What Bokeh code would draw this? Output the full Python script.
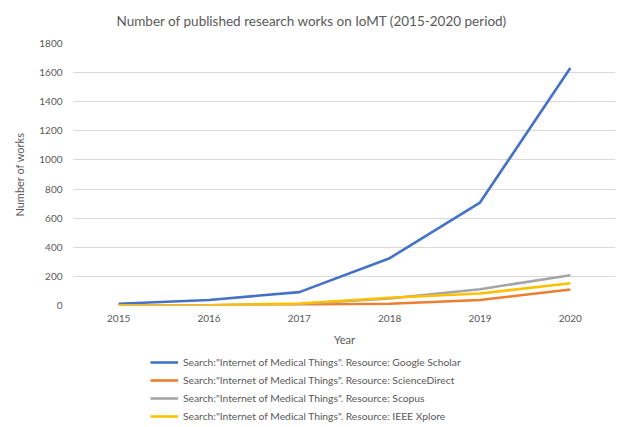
from bokeh.plotting import figure
from bokeh.models import Range1d, FixedTicker, Legend, LegendItem
from bokeh.layouts import column
from bokeh.embed import file_html
from bokeh.resources import INLINE

years = [2015, 2016, 2017, 2018, 2019, 2020]
google_scholar = [12, 38, 92, 325, 707, 1632]
science_direct = [0, 1, 4, 12, 38, 110]
scopus = [0, 2, 10, 48, 112, 208]
ieee_xplore = [0, 2, 14, 53, 82, 153]

series_names = [
    'Search:"Internet of Medical Things". Resource: Google Scholar',
    'Search:"Internet of Medical Things". Resource: ScienceDirect',
    'Search:"Internet of Medical Things". Resource: Scopus',
    'Search:"Internet of Medical Things". Resource: IEEE Xplore',
]
colors = ["#4472C4", "#ED7D31", "#A5A5A5", "#FFC000"]
y_ticks = [0, 200, 400, 600, 800, 1000, 1200, 1400, 1600, 1800]
all_series = [google_scholar, science_direct, scopus, ieee_xplore]

FONT = "Lato"
TXT = "#595959"
LW = 2.6

p = figure(width=620, height=350, output_backend="svg", toolbar_location=None,
           x_range=Range1d(2014.5, 2020.5), y_range=Range1d(0, 1800),
           min_border_left=73, min_border_right=5, min_border_top=43, min_border_bottom=45)
p.outline_line_color = None
p.background_fill_color = "white"

p.title.text = "Number of published research works on IoMT (2015-2020 period)"
p.title.text_font = FONT
p.title.text_font_size = "13.5px"
p.title.text_font_style = "normal"
p.title.text_color = TXT
p.title.align = "left"
p.title.vertical_align = "top"
p.title.offset = 43
p.title.standoff = 25

for vals, c in zip(all_series, colors):
    p.line(years, vals, line_color=c, line_width=LW)

p.xaxis.ticker = FixedTicker(ticks=years)
p.yaxis.ticker = FixedTicker(ticks=y_ticks)
for ax in (p.xaxis, p.yaxis):
    ax.axis_line_color = None
    ax.major_tick_line_color = None
    ax.minor_tick_line_color = None
    ax.major_label_text_font = FONT
    ax.major_label_text_font_size = "10px"
    ax.major_label_text_color = TXT
    ax.axis_label_text_font = FONT
    ax.axis_label_text_font_size = "11px"
    ax.axis_label_text_font_style = "normal"
    ax.axis_label_text_color = TXT
p.xaxis.axis_label = "Year"
p.yaxis.axis_label = "Number of works"
p.xaxis.major_label_standoff = 3
p.yaxis.major_label_standoff = 5
p.xaxis.axis_label_standoff = 8
p.yaxis.axis_label_standoff = 10

p.xgrid.grid_line_color = None
p.ygrid.grid_line_color = "#D9D9D9"
p.ygrid.grid_line_width = 1

# legend figure (series drawn out of its visible range, used only for legend glyphs)
q = figure(width=620, height=75, output_backend="svg", toolbar_location=None,
           x_range=Range1d(0, 1), y_range=Range1d(0, 1),
           x_axis_location=None, y_axis_location=None,
           min_border_left=73, min_border_right=5, min_border_top=0, min_border_bottom=0)
q.outline_line_color = None
q.xgrid.grid_line_color = None
q.ygrid.grid_line_color = None
dummies = [q.line(years, vals, line_color=c, line_width=LW) for vals, c in zip(all_series, colors)]

legend = Legend(items=[LegendItem(label=n, renderers=[r]) for n, r in zip(series_names, dummies)],
                location=(77, 0), orientation="vertical")
legend.label_text_font = FONT
legend.label_text_font_size = "10.3px"
legend.label_text_color = TXT
legend.glyph_width = 28
legend.glyph_height = 18
legend.label_height = 18
legend.label_standoff = 5
legend.spacing = 0
legend.padding = 0
legend.margin = 0
legend.border_line_alpha = 0
legend.background_fill_alpha = 0
q.add_layout(legend, "center")

layout = column(p, q, spacing=0)
open("out.html", "w").write(file_html(layout, INLINE))
